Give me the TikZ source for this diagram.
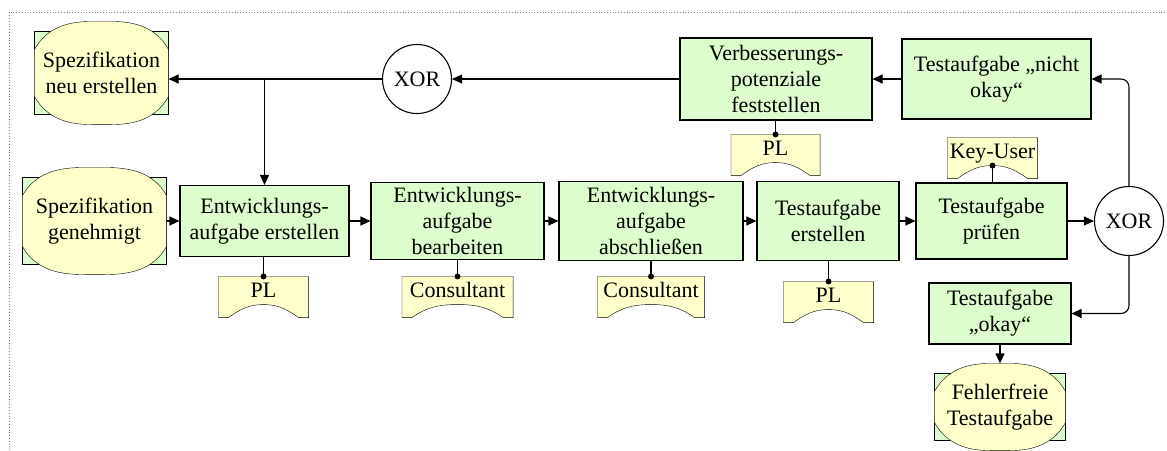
\documentclass[tikz,border=0pt]{standalone}
\usepackage{fontspec}
\setmainfont{Liberation Serif}
\usepackage{tikz}
\usetikzlibrary{arrows.meta,backgrounds}
\definecolor{fngreen}{RGB}{221,253,204}
\definecolor{evyellow}{RGB}{255,255,204}

\begin{document}
\begin{tikzpicture}[x=1pt,y=1pt,line width=1.1pt,font=\fontsize{22}{26}\selectfont]
\tikzstyle{every node}+=[inner sep=0pt]
\tikzstyle{func}=[draw,fill=fngreen,align=center]
\tikzstyle{event}=[align=center]
\tikzstyle{role}=[minimum height=40,text height=16pt,text depth=16pt]
\tikzstyle{xor}=[draw,circle,fill=white,minimum size=69]
\tikzstyle{flow}=[-{Triangle[length=10pt,width=9pt]}]
\useasboundingbox (0,0) rectangle (1167,-450);
\draw[gray,dotted,line width=0.8pt] (9,-450) -- (9,-12) -- (1167,-12);
% events
\node[event,minimum width=133,minimum height=102] (ev1) at (101.5,-73) {Spezifikation\\neu erstellen};
\node[event,minimum width=143,minimum height=106] (ev2) at (94.5,-221) {Spezifikation\\genehmigt};
\node[event,minimum width=130,minimum height=86] (ev3) at (1000,-407) {Fehlerfreie\\Testaufgabe};
% functions
\node[func,minimum width=169,minimum height=71] (fn1) at (264.5,-221) {Entwicklungs-\\aufgabe erstellen};
\node[func,minimum width=173,minimum height=77] (fn2) at (457.5,-221) {Entwicklungs-\\aufgabe\\bearbeiten};
\node[func,minimum width=184,minimum height=79] (fn3) at (651,-221) {Entwicklungs-\\aufgabe\\abschließen};
\node[func,minimum width=142,minimum height=79] (fn4) at (828,-221) {Testaufgabe\\erstellen};
\node[func,minimum width=151,minimum height=76] (fn5) at (991.5,-221) {Testaufgabe\\prüfen};
\node[func,minimum width=142,minimum height=61] (fn6) at (1000,-313.5) {Testaufgabe\\„okay“};
\node[func,minimum width=189,minimum height=80] (fn7) at (996.5,-79) {Testaufgabe „nicht\\okay“};
\node[func,minimum width=192,minimum height=82] (fn8) at (776,-79) {Verbesserungs-\\potenziale\\feststellen};
% connectors
\node[xor] (xor1) at (417,-79) {XOR};
\node[xor] (xor2) at (1129,-221) {XOR};
% roles
\node[role,minimum width=89] (pl1) at (263.5,-297) {PL};
\node[role,minimum width=110] (cs1) at (457.5,-297) {Consultant};
\node[role,minimum width=106] (cs2) at (651,-297) {Consultant};
\node[role,minimum width=89] (pl2) at (828.5,-302) {PL};
\node[role,minimum width=88] (pl3) at (775.5,-155) {PL};
\node[role,minimum width=89] (ku) at (992.5,-158) {Key-User};

\begin{scope}[on background layer]
\foreach \e in {ev1,ev2,ev3}{
  \draw[fill=fngreen] ([yshift=-10]\e.north west) rectangle ([yshift=10]\e.south east);
  \draw[fill=evyellow] ([yshift=-28]\e.north west) to[out=60,in=180] ([xshift=-10]\e.north) -- ([xshift=10]\e.north)
    to[out=0,in=120] ([yshift=-28]\e.north east) -- ([yshift=28]\e.south east) to[out=-120,in=0] ([xshift=10]\e.south)
    -- ([xshift=-10]\e.south) to[out=180,in=-60] ([yshift=28]\e.south west) -- cycle;
}
\foreach \r in {pl1,cs1,cs2,pl2,pl3,ku}
  \draw[fill=evyellow] (\r.north west) -- (\r.north east) -- (\r.south east) -- ([xshift=-10]\r.south east)
    to[out=145,in=0] ([yshift=13]\r.south) to[out=180,in=35] ([xshift=10]\r.south west) -- (\r.south west) -- cycle;
\end{scope}

% control flow
\draw[flow] (ev2.east) -- (fn1.west);
\draw[flow] (fn1.east) -- (fn2.west);
\draw[flow] (fn2.east) -- (fn3.west);
\draw[flow] (fn3.east) -- (fn4.west);
\draw[flow] (fn4.east) -- (fn5.west);
\draw[flow] (fn5.east) -- (xor2.west);
\draw[flow,rounded corners=8] (xor2.north) |- (fn7.east);
\draw[flow,rounded corners=8] (xor2.south) |- (fn6.east);
\draw[flow] (fn6.south) -- (ev3.north);
\draw[flow] (fn7.west) -- (fn8.east);
\draw[flow] (fn8.west) -- (xor1.east);
\draw[flow] (xor1.west) -- (xor1.west -| ev1.east);
\draw[flow] (xor1.west -| fn1.north) -- (fn1.north);

% role assignments
\foreach \f/\r in {fn1/pl1,fn2/cs1,fn3/cs2,fn4/pl2,fn8/pl3}{
  \draw (\r.north) -- (\r.north |- \f.south);
  \fill (\r.north) circle (3);
}
\draw ([yshift=13]ku.south) -- (ku.south |- fn5.north);
\fill ([yshift=13]ku.south) circle (3);
\end{tikzpicture}
\end{document}
